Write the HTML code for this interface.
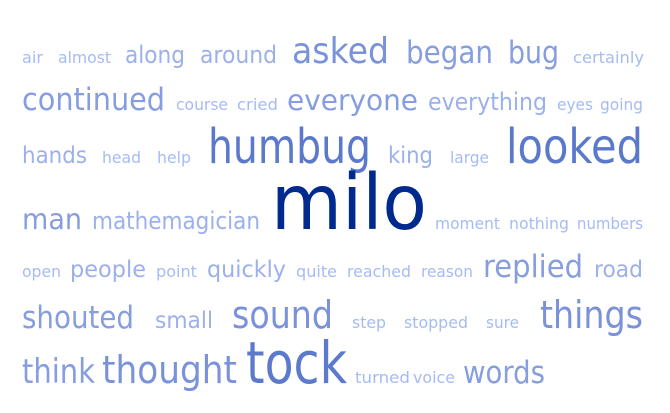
<!DOCTYPE html>
<html><head><meta charset="utf-8"><style>
html,body{margin:0;padding:0;background:#fff;}
svg{display:block;}
text{font-family:"DejaVu Sans","Liberation Sans",sans-serif;}
</style></head><body>
<svg id="cloud" width="670" height="413" viewBox="0 0 670 413"></svg>
<script>
const words=["air","almost","along","around","asked","began","bug","certainly",
"continued","course","cried","everyone","everything","eyes","going",
"hands","head","help","humbug","king","large","looked",
"man","mathemagician","milo","moment","nothing","numbers",
"open","people","point","quickly","quite","reached","reason","replied","road",
"shouted","small","sound","step","stopped","sure","things",
"think","thought","tock","turned","voice","words"];
const weights=[1,1,2,2,4,3,3,1, 3,1,1,3,2,1,1, 2,1,1,5,2,1,5, 3,2,8,1,1,1, 1,2,1,2,1,1,1,3,2, 3,2,4,1,1,1,4, 3,4,6,1,1,3];
const layout=[[22,63,43,13],[58,63,111,13],[125,63,185,20],[200,63,277,20],[292,63,389,30],[406,63,493,26],[508,63,559,26],[573,63,644,13],
[22,110,165,26],[176,110,228,13],[237,110,278,13],[287,110,418,24],[428,110,547,20],[557,110,593,13],[600,110,643,13],
[22,163,87,19],[102,163,141,13],[157,163,191,13],[208,163,371,40],[388,163,433,19],[450,163,489,13],[506,163,643,40],
[22,229,82,24],[92,229,260,20],[271,229,427,64],[435,229,500,13],[509,229,569,13],[577,229,643,13],
[22,277,61,13],[70,277,146,19],[156,277,197,13],[207,277,286,19],[296,277,337,13],[347,277,411,13],[421,277,473,13],[483,277,583,26],[594,277,643,19],
[22,328,134,26],[155,328,213,19],[232,328,333,32],[352,328,386,13],[404,328,468,13],[486,328,519,13],[540,328,643,32],
[22,383,95,28],[102,383,237,32],[246,383,347,48],[355,383,410,13],[413,383,455,13],[463,383,545,26]];
const colors={1:"#a6bbf4",2:"#9cb0ec",3:"#869ddf",4:"#7a92d9",5:"#5a79ca",6:"#5c7acb",8:"#002a8e"};
const svg=document.getElementById('cloud');
words.forEach((w,i)=>{
  const [x,y,x2,fs]=layout[i];
  const t=document.createElementNS('http://www.w3.org/2000/svg','text');
  t.setAttribute('x',x);t.setAttribute('y',y);
  t.setAttribute('font-size',fs*1.2);
  t.setAttribute('fill',colors[weights[i]]);
  t.setAttribute('textLength',x2-x);
  t.setAttribute('lengthAdjust','spacingAndGlyphs');
  t.textContent=w;
  
  
  svg.appendChild(t);
});
</script>
</body></html>
